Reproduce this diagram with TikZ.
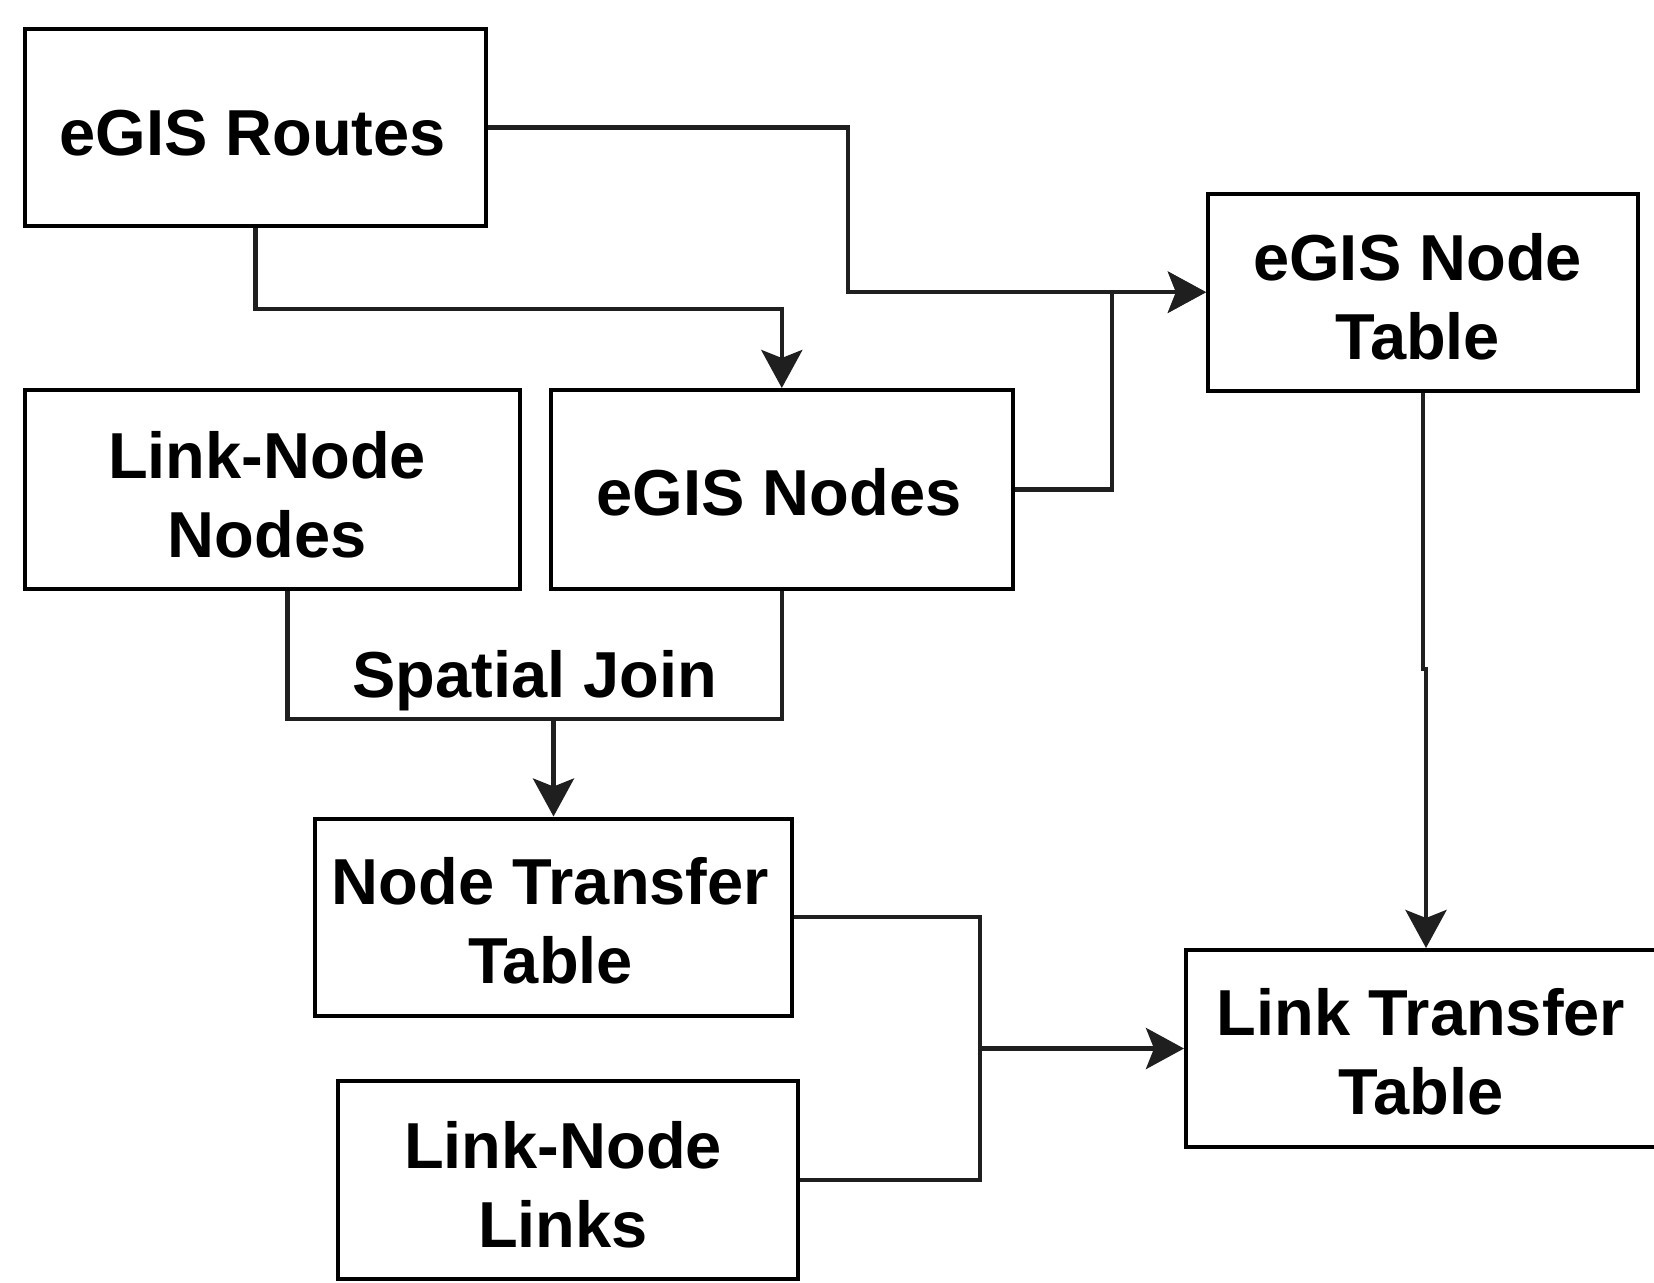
\documentclass[tikz,border=0pt]{standalone}
\usepackage{fontspec}
\setmainfont{Liberation Sans}
\usetikzlibrary{arrows.meta}
\begin{document}
\begin{tikzpicture}[x=1pt,y=-1pt,
  box/.style={draw=black,line width=4pt,inner sep=0pt,fill=none},
  conn/.style={draw=black!88,line width=4.5pt},
  arr/.style={conn,-{Stealth[length=38pt,width=41pt,inset=8pt]}},
  lbl/.style={font=\bfseries\fontsize{65}{79}\selectfont,align=center,inner sep=0pt}]
\useasboundingbox (0,0) rectangle (1654,1282);
\fill[white] (0,0) rectangle (1654,1282);
% boxes
\node[box,minimum width=461pt,minimum height=197pt] (routes) at (255.5,127.5) {};
\node[box,minimum width=494.5pt,minimum height=199pt] (lnn) at (272.3,489.5) {};
\node[box,minimum width=461.6pt,minimum height=199pt] (enodes) at (781.8,489.5) {};
\node[box,minimum width=429.6pt,minimum height=196.6pt] (ntab) at (1422.8,292.2) {};
\node[box,minimum width=477pt,minimum height=197pt] (ntt) at (553.5,917) {};
\node[box,minimum width=460.5pt,minimum height=198pt] (lnl) at (568.2,1180) {};
\node[box,minimum width=480pt,minimum height=197pt] (ltt) at (1426,1048.5) {};
% texts
\node[lbl,anchor=base] (troutes) at (252.6,155) {eGIS Routes};
\node[lbl] (tlnn) at (267,494.5) {Link-Node\\Nodes};
\node[lbl,anchor=base] (tenodes) at (779,515) {eGIS Nodes};
\node[lbl] (tntab) at (1417.6,296.5) {eGIS Node\\Table};
\node[lbl] (tntt) at (550.5,921) {Node Transfer\\Table};
\node[lbl] (tlnl) at (563,1185) {Link-Node\\Links};
\node[lbl] (tltt) at (1421,1052) {Link Transfer\\Table};
\node[lbl,anchor=base] (tsj) at (535,697) {Spatial Join};
% helper coordinates
\coordinate (k1) at (848,0);
\coordinate (k2) at (1112,0);
\coordinate (k3) at (0,309);
\coordinate (k4) at (0,719);
\coordinate (k5) at (980,0);
\coordinate (k6) at (0,669);
% connectors
\draw[arr] (routes.east) -| (k1 |- ntab.west) -- (ntab.west);
\draw[arr] (enodes.east) -| (k2 |- ntab.west) -- (ntab.west);
\draw[arr] (routes.south) |- (k3 -| enodes.north) -- (enodes.north);
\draw[conn] ([xshift=15pt]lnn.south) |- (k4 -| enodes.south) -- (enodes.south);
\draw[arr] (k4 -| ntt.north) -- (ntt.north);
\draw[conn] (ntt.east) -| (k5 |- ltt.west);
\draw[conn] (lnl.east) -| (k5 |- ltt.west);
\draw[arr] (k5 |- ltt.west) -- (ltt.west);
\draw[arr] (ntab.south) |- (k6 -| ltt.north) -- (ltt.north);
\end{tikzpicture}
\end{document}
